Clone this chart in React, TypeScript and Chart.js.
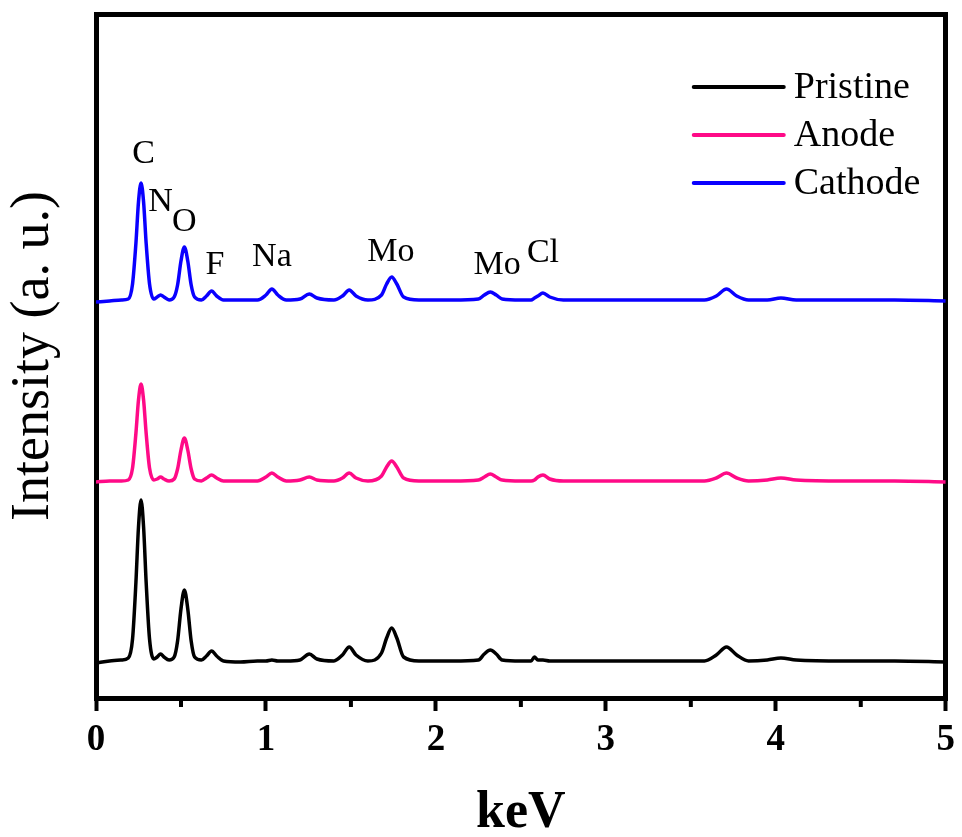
import React, { useEffect, useRef } from 'react';
import { Chart, registerables } from 'chart.js';

Chart.register(...registerables);

// Energy grid (keV)
const energyKeV = [
  0, 0.08, 0.15, 0.19, 0.215, 0.235, 0.25, 0.265, 0.28, 0.295,
  0.315, 0.34, 0.36, 0.38, 0.40, 0.43, 0.46, 0.48, 0.50, 0.52,
  0.54, 0.56, 0.58, 0.62, 0.65, 0.68, 0.71, 0.75, 0.85, 0.95,
  1.0, 1.035, 1.07, 1.12, 1.2, 1.255, 1.3, 1.4, 1.45, 1.49,
  1.53, 1.6, 1.68, 1.71, 1.74, 1.77, 1.81, 1.9, 2.1, 2.25,
  2.285, 2.32, 2.355, 2.39, 2.5, 2.56, 2.58, 2.6, 2.63, 2.67,
  2.75, 3.0, 3.3, 3.58, 3.65, 3.71, 3.77, 3.84, 3.95, 4.03,
  4.12, 4.4, 4.7, 5.0,
];

// Intensities (a.u., stacked with offsets already applied)
const pristine = [
  35, 37, 38, 40, 59, 116, 171, 198, 171, 116,
  59, 39, 41, 44, 41, 38, 41, 57, 89, 108,
  89, 57, 41, 38, 42, 47, 42, 37, 36, 37,
  37, 38, 37, 37, 38, 44, 39, 37, 43, 51,
  43, 37, 45, 60, 70, 60, 41, 37, 37, 38,
  44, 48, 44, 38, 37, 37, 41, 38, 38, 37,
  37, 37, 37, 37, 43, 51, 43, 37, 38, 40,
  38, 37, 37, 36,
];
const anode = [
  216, 217, 217, 218, 230, 265, 298, 314, 298, 265,
  230, 218, 219, 221, 219, 217, 219, 229, 248, 260,
  248, 229, 219, 217, 220, 223, 220, 217, 217, 217,
  221, 225, 221, 217, 218, 221, 218, 217, 220, 225,
  220, 217, 222, 231, 237, 231, 220, 217, 217, 218,
  221, 224, 221, 218, 217, 217, 218, 221, 223, 219,
  217, 217, 217, 217, 220, 225, 220, 217, 218, 220,
  218, 217, 217, 216,
];
const cathode = [
  396, 397, 398, 399, 414, 455, 496, 515, 496, 455,
  414, 399, 401, 403, 401, 398, 401, 413, 437, 451,
  437, 413, 401, 398, 402, 407, 402, 398, 398, 398,
  403, 409, 403, 398, 399, 404, 400, 398, 402, 408,
  402, 398, 403, 414, 421, 414, 401, 398, 398, 399,
  403, 406, 403, 399, 398, 398, 400, 402, 405, 401,
  398, 398, 398, 398, 402, 409, 402, 398, 398, 400,
  398, 398, 398, 397,
];

const seriesNames = ['Pristine', 'Anode', 'Cathode'];
const seriesColors = ['#000000', '#FF0A87', '#0A00FF'];

// Element labels above the peaks
const peakLabels = ['C', 'N', 'O', 'F', 'Na', 'Mo', 'Mo', 'Cl'];
const peakLabelKeV = [0.28, 0.38, 0.52, 0.7, 1.035, 1.735, 2.36, 2.63];
const peakLabelIntensity = [544, 496, 476, 433, 441, 446, 433, 445];

const xMin = 0;
const xMax = 5;
const xMinorTicks = [0.5, 1.5, 2.5, 3.5, 4.5];
const yMin = 0;
const yMax = 684;

const SERIF = '"Liberation Serif", "Times New Roman", serif';

const peakLabelPlugin = {
  id: 'peakLabels',
  afterDatasetsDraw(chart: any) {
    const { ctx, scales } = chart;
    ctx.save();
    ctx.fillStyle = '#000';
    ctx.font = `34px ${SERIF}`;
    ctx.textAlign = 'center';
    ctx.textBaseline = 'middle';
    peakLabels.forEach((t, i) => {
      const x = scales.x.getPixelForValue(peakLabelKeV[i]);
      const y = scales.y.getPixelForValue(peakLabelIntensity[i]);
      ctx.fillText(t, x, y);
    });
    ctx.restore();
  },
};

const minorTickPlugin = {
  id: 'minorTicks',
  afterDraw(chart: any) {
    const { ctx, scales, chartArea } = chart;
    ctx.save();
    ctx.strokeStyle = '#000';
    ctx.lineWidth = 4;
    xMinorTicks.forEach((v) => {
      const x = scales.x.getPixelForValue(v);
      ctx.beginPath();
      ctx.moveTo(x, chartArea.bottom);
      ctx.lineTo(x, chartArea.bottom + 9);
      ctx.stroke();
    });
    ctx.restore();
  },
};

const legendPlugin = {
  id: 'insideLegend',
  afterDraw(chart: any) {
    const { ctx, chartArea } = chart;
    ctx.save();
    ctx.font = `38px ${SERIF}`;
    ctx.textAlign = 'left';
    ctx.textBaseline = 'middle';
    chart.data.datasets.forEach((ds: any, i: number) => {
      const y = chartArea.top + 73 + i * 48;
      ctx.strokeStyle = ds.borderColor;
      ctx.lineWidth = 4;
      ctx.lineCap = 'round';
      ctx.beginPath();
      ctx.moveTo(chartArea.right - 252, y);
      ctx.lineTo(chartArea.right - 162, y);
      ctx.stroke();
      ctx.fillStyle = '#000';
      ctx.fillText(ds.label, chartArea.right - 152, y + 1);
    });
    ctx.restore();
  },
};

export default function App() {
  const canvasRef = useRef<HTMLCanvasElement | null>(null);

  useEffect(() => {
    if (!canvasRef.current) return;
    const series = [pristine, anode, cathode];
    const chart = new Chart(canvasRef.current, {
      type: 'line',
      data: {
        datasets: series.map((vals, i) => ({
          label: seriesNames[i],
          data: energyKeV.map((e, j) => ({ x: e, y: vals[j] })),
          borderColor: seriesColors[i],
          backgroundColor: seriesColors[i],
          borderWidth: 3.5,
          pointRadius: 0,
          cubicInterpolationMode: 'monotone',
          fill: false,
        })),
      },
      options: {
        animation: false,
        responsive: false,
        maintainAspectRatio: false,
        layout: { padding: 0 },
        plugins: {
          legend: { display: false },
          tooltip: { enabled: false },
        },
        scales: {
          x: {
            type: 'linear',
            position: 'bottom',
            min: xMin,
            max: xMax,
            afterFit: (s: any) => { s.height = 139; },
            ticks: {
              stepSize: 1,
              color: '#000',
              padding: 7,
              font: { family: SERIF, size: 37, weight: 'bold' },
            },
            grid: {
              display: true,
              drawOnChartArea: false,
              drawTicks: true,
              tickLength: 13,
              tickWidth: 4,
              tickColor: '#000',
              lineWidth: 5,
              color: '#000',
            },
            border: { display: true, width: 5, color: '#000' },
            title: {
              display: true,
              text: 'keV',
              color: '#000',
              font: { family: SERIF, size: 52, weight: 'bold', lineHeight: 0.9 },
              padding: { top: 0, bottom: 0 },
            },
          },
          x2: {
            type: 'linear',
            position: 'top',
            min: xMin,
            max: xMax,
            afterFit: (s: any) => { s.height = 14; },
            ticks: { display: false },
            grid: { display: false, lineWidth: 5 },
            border: { display: true, width: 5, color: '#000' },
          },
          y: {
            type: 'linear',
            position: 'left',
            min: yMin,
            max: yMax,
            afterFit: (s: any) => { s.width = 96; },
            ticks: { display: false },
            grid: { display: false, lineWidth: 5 },
            border: { display: true, width: 5, color: '#000' },
            title: {
              display: true,
              text: 'Intensity (a. u.)',
              color: '#000',
              font: { family: SERIF, size: 54, weight: 'normal', lineHeight: 1 },
              padding: { top: 7, bottom: 0 },
            },
          },
          y2: {
            type: 'linear',
            position: 'right',
            min: yMin,
            max: yMax,
            afterFit: (s: any) => { s.width = 16; },
            ticks: { display: false },
            grid: { display: false, lineWidth: 5 },
            border: { display: true, width: 5, color: '#000' },
          },
        },
      } as any,
      plugins: [peakLabelPlugin, minorTickPlugin, legendPlugin],
    });
    return () => chart.destroy();
  }, []);

  return (
    <div style={{ position: 'fixed', left: 0, top: 0, width: 962, height: 837, background: '#fff' }}>
      <canvas ref={canvasRef} width={962} height={837} />
    </div>
  );
}
